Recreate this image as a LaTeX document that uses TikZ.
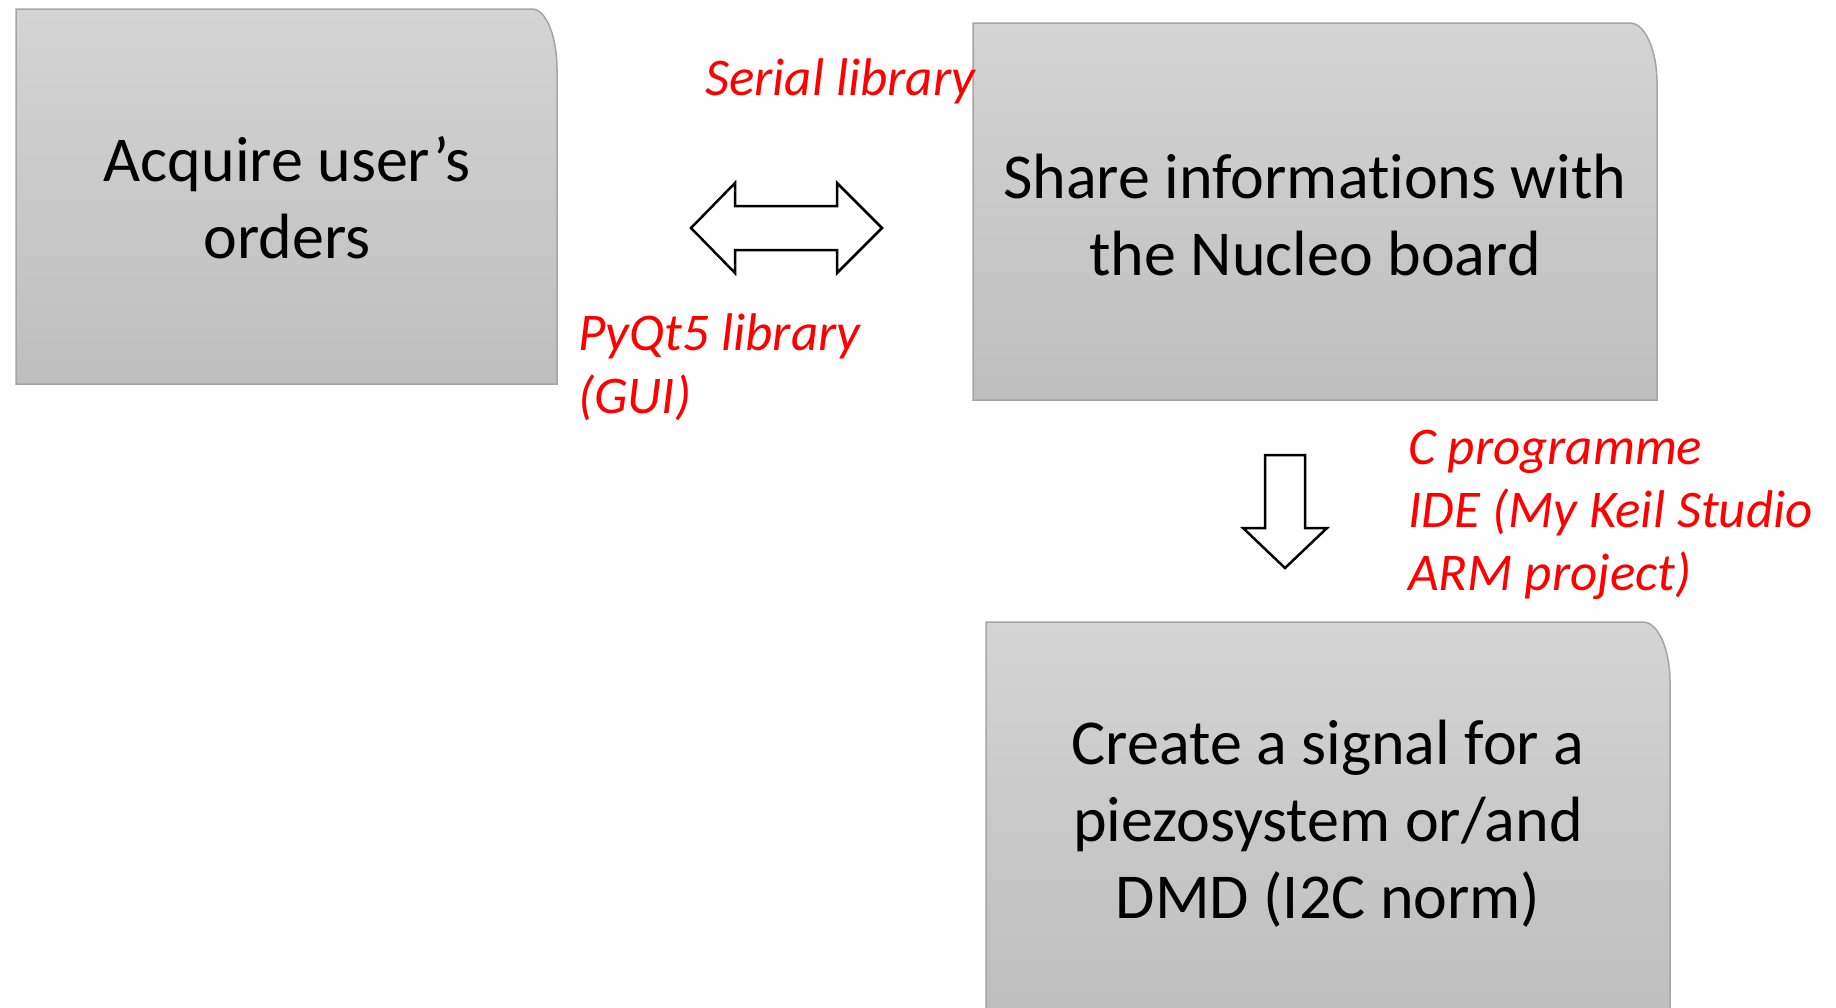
\documentclass[tikz,border=0pt]{standalone}
\usepackage{fontspec}
\setmainfont{Carlito}[Ligatures=NoCommon]
\definecolor{boxtop}{RGB}{212,212,212}
\definecolor{boxbot}{RGB}{190,190,190}
\definecolor{boxline}{RGB}{165,165,165}
\definecolor{lblred}{RGB}{255,0,0}
\tikzset{
 boxshape/.style={top color=boxtop,bottom color=boxbot,draw=boxline,line width=1.5pt},
 boxtext/.style={font=\fontsize{64}{77}\selectfont,align=center,anchor=base,inner sep=0pt},
 redlabel/.style={font=\fontsize{53}{63}\selectfont\itshape,text=lblred,align=left,anchor=base west,inner sep=0pt},
 blockarrow/.style={draw=black,fill=white,line width=2.5pt,line join=miter}
}
\begin{document}
\begin{tikzpicture}[x=1pt,y=-1pt]
\clip (0,0) rectangle (1836,1007);
\fill[white] (0,0) rectangle (1836,1007);
% box 1
\path[boxshape] (16,9) -- (532,9) arc[start angle=90,end angle=0,x radius=25pt,y radius=60pt] -- (557,384) -- (16,384) -- cycle;
% box 2
\path[boxshape] (973,23) -- (1630,23) arc[start angle=90,end angle=0,x radius=27pt,y radius=60pt] -- (1657,400) -- (973,400) -- cycle;
% box 3
\path[boxshape] (986,622) -- (1643,622) arc[start angle=90,end angle=0,x radius=27pt,y radius=60pt] -- (1670,1020) -- (986,1020) -- cycle;
% box texts (anchor = baseline of the last line)
\node[boxtext] (t1) at (287,258) {Acquire user’s\\orders};
\node[boxtext] (t2) at (1315,275) {Share informations with\\the Nucleo board};
\node[boxtext] (t3) at (1328,918) {Create a signal for a\\piezosystem or/and\\DMD (I2C norm)};
% double arrow
\path[blockarrow] (691,228) -- (735,183) -- (735,206) -- (837,206) -- (837,183) -- (882,228) -- (837,273) -- (837,250) -- (735,250) -- (735,273) -- cycle;
% down arrow
\path[blockarrow] (1265,455) -- (1305,455) -- (1305,528) -- (1327,528) -- (1285,568) -- (1243,528) -- (1265,528) -- cycle;
% labels
\node[redlabel] (l1) at (705,95) {Serial library};
\node[redlabel] (l2) at (578,413) {PyQt5 library\\(GUI)};
\node[redlabel] (l3) at (1408,590) {C programme\\IDE (My Keil Studio\\ARM project)};
\end{tikzpicture}
\end{document}
